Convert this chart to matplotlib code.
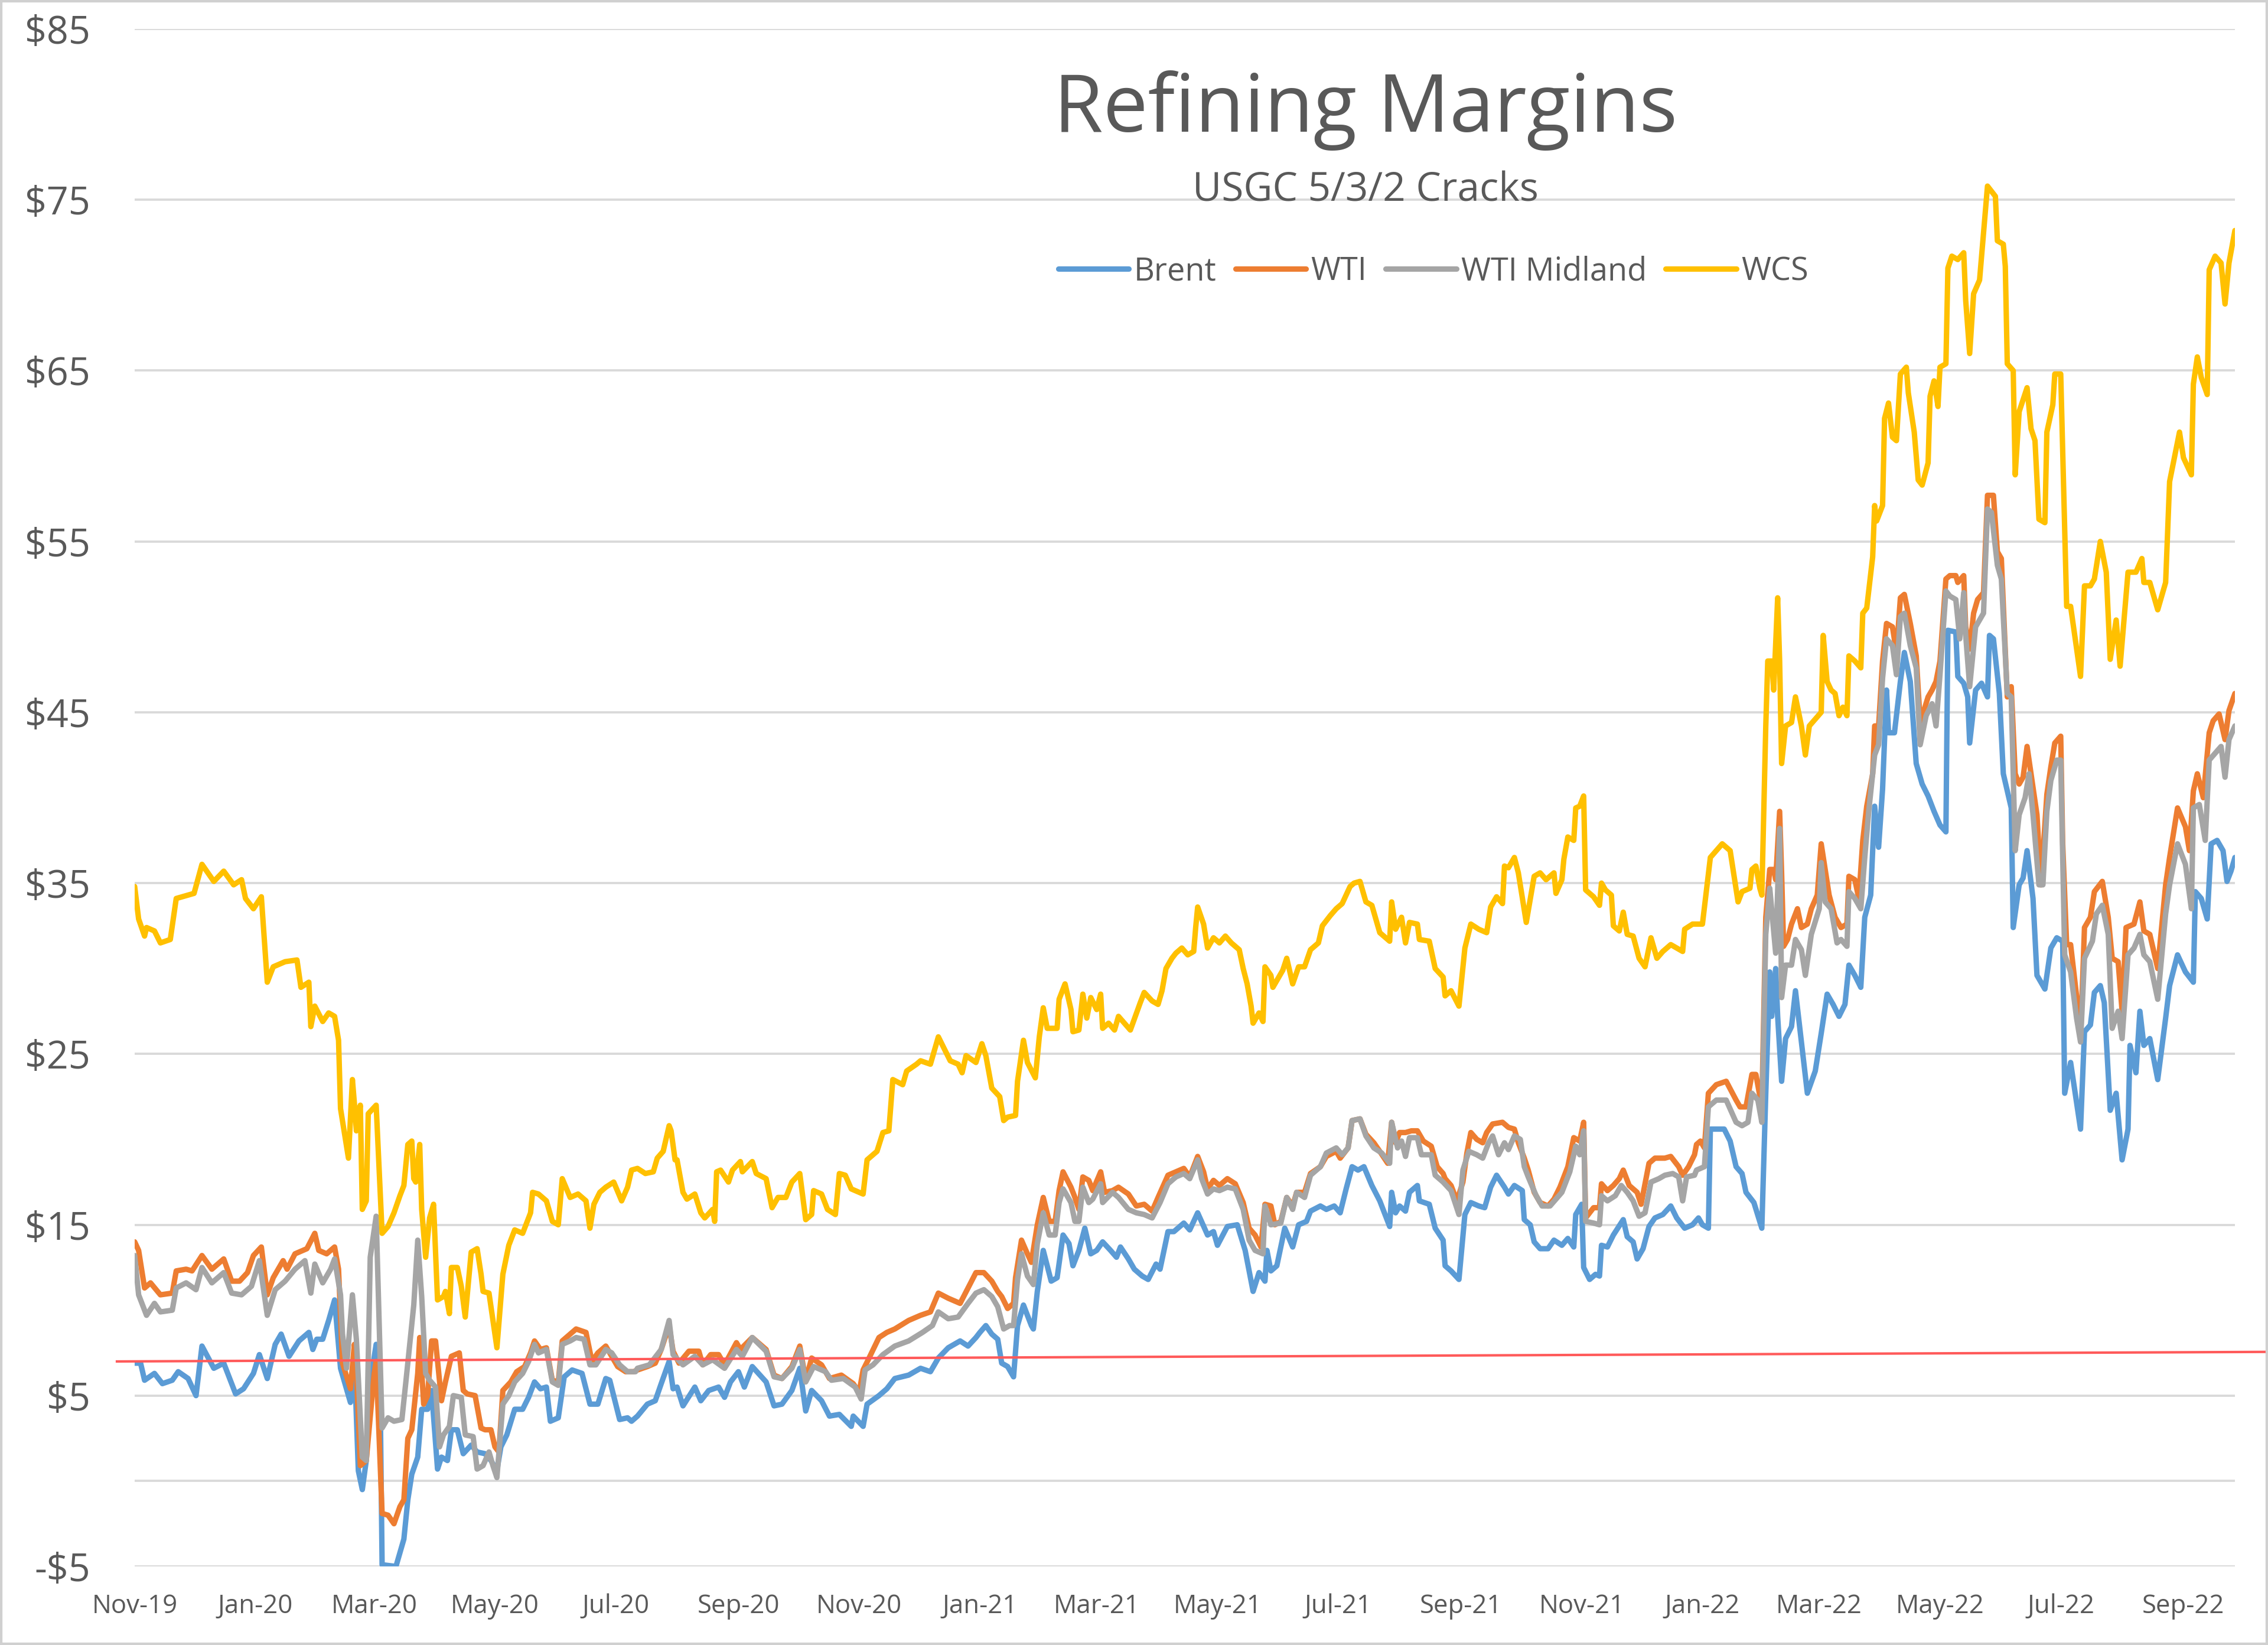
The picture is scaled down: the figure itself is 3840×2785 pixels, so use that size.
import numpy as np
import matplotlib
matplotlib.use('Agg')
import matplotlib.pyplot as plt
import matplotlib.dates as mdates
import matplotlib.transforms as mtransforms
from matplotlib.patches import Rectangle
from matplotlib.lines import Line2D

plt.rcParams['font.family'] = ['Open Sans', 'DejaVu Sans']

# ---------------- data (day offset from 2019-11-01, value $/bbl) ----------------
START = np.datetime64('2019-11-01')

brent_pts = [(0,6.9),(3,6.9),(5,5.9),(10,6.3),(14,5.7),(19,5.9),(22,6.4),(27,6.0),(31,5.0),(34,7.9),(40,6.6),(45,6.9),(51,5.1),(55,5.4),(60,6.3),(63,7.4),(67,6.0),(71,8.0),(74,8.6),(78,7.3),(83,8.2),(88,8.7),(90,7.7),(92,8.3),(95,8.3),(98,9.4),(101,10.6),(104,6.6),(109,4.6),(111,7.0),(113,0.6),(115,-0.5),(117,1.2),(120,6.5),(122,8.0),(124,5.3),(125,-4.9),(132,-5.0),(136,-3.4),(138,-1.1),(140,0.4),(143,1.4),(145,4.2),(148,4.2),(150,5.3),(153,0.7),(155,1.4),(158,1.2),(160,3.0),(163,3.0),(166,1.6),(170,2.1),(173,1.7),(177,1.6),(180,1.2),(183,0.6),(185,2.0),(188,2.7),(192,4.2),(196,4.2),(199,4.9),(202,5.8),(205,5.4),(208,5.5),(210,3.5),(214,3.7),(217,6.1),(221,6.5),(226,6.3),(230,4.5),(234,4.5),(238,6.0),(240,5.9),(245,3.6),(249,3.7),(251,3.5),(254,3.8),(259,4.5),(263,4.7),(266,5.7),(270,7.0),(272,5.4),(274,5.5),(277,4.4),(283,5.5),(286,4.7),(290,5.3),(295,5.5),(298,4.9),(301,5.8),(305,6.4),(308,5.5),(312,6.7),(319,5.8),(323,4.4),(327,4.5),(332,5.3),(336,6.6),(339,4.1),(342,5.3),(347,4.7),(351,3.8),(356,3.9),(362,3.2),(363,3.8),(368,3.2),(370,4.5),(376,5.0),(380,5.4),(384,6.0),(391,6.2),(397,6.6),(402,6.4),(406,7.2),(411,7.8),(417,8.2),(421,7.9),(425,8.4),(427,8.7),(430,9.1),(433,8.6),(436,8.3),(438,6.9),(441,6.7),(444,6.1),(446,9.1),(449,10.3),(453,9.1),(454,8.9),(456,11.1),(459,13.5),(463,11.7),(466,11.9),(469,14.4),(472,13.9),(474,12.6),(477,13.5),(480,14.8),(483,13.3),(486,13.5),(489,14.0),(493,13.5),(496,13.1),(498,13.7),(502,13.0),(505,12.4),(509,12.0),(512,11.8),(516,12.7),(518,12.4),(522,14.6),(525,14.6),(530,15.1),(533,14.7),(537,15.7),(542,14.4),(545,14.6),(547,13.8),(552,14.9),(557,15.0),(561,13.5),(565,11.1),(568,12.2),(571,11.7),(572,13.5),(574,12.3),(577,12.6),(581,14.8),(585,13.7),(588,15.0),(592,15.2),(594,15.8),(599,16.1),(602,15.9),(606,16.1),(609,15.7),(612,17.1),(615,18.4),(618,18.2),(621,18.4),(625,17.3),(629,16.4),(632,15.5),(634,14.9),(635,16.9),(637,15.7),(639,16.1),(642,15.8),(644,16.9),(648,17.3),(649,16.4),(654,16.2),(657,14.8),(661,14.1),(662,12.6),(665,12.3),(669,11.8),(672,15.6),(675,16.3),(679,16.1),(682,16.0),(685,17.2),(688,17.9),(692,17.2),(694,16.8),(697,17.3),(701,17.0),(702,15.3),(705,15.0),(707,14.0),(710,13.6),(714,13.6),(717,14.1),(721,13.8),(724,14.2),(727,13.7),(728,15.6),(731,16.2),(732,12.5),(735,11.8),(738,12.1),(740,12.0),(741,13.8),(744,13.7),(747,14.4),(752,15.3),(754,14.3),(757,14.0),(759,13.0),(762,13.6),(765,14.9),(768,15.4),(772,15.6),(776,16.1),(779,15.4),(783,14.8),(787,15.0),(790,15.4),(792,15.0),(795,14.8),(796,20.6),(799,20.6),(803,20.6),(806,19.9),(809,18.4),(812,18.0),(814,16.9),(818,16.3),(822,14.8),(824,22.7),(826,29.8),(827,27.2),(829,30.0),(830,27.2),(832,23.4),(834,25.9),(837,26.6),(839,28.7),(842,25.7),(845,22.7),(849,24.0),(852,26.2),(855,28.5),(858,27.9),(861,27.2),(864,27.9),(866,30.2),(869,29.6),(872,28.9),(874,33.0),(877,34.3),(879,39.5),(881,37.1),(883,40.5),(885,46.3),(886,43.8),(889,43.8),(892,46.8),(894,48.5),(897,46.8),(900,42.0),(903,40.8),(906,40.1),(909,39.2),(912,38.4),(915,38.0),(916,49.8),(920,49.7),(921,47.1),(924,46.7),(926,45.9),(927,43.2),(930,46.3),(933,46.7),(936,45.9),(937,49.5),(939,49.3),(942,46.1),(944,41.4),(948,39.4),(949,32.4),(952,34.9),(954,35.3),(956,36.9),(959,34.1),(961,29.6),(965,28.8),(968,31.2),(971,31.8),(974,31.6),(975,22.7),(978,24.5),(983,20.6),(985,26.3),(988,26.7),(990,28.6),(993,29.0),(995,28.0),(998,21.7),(1001,22.7),(1004,18.8),(1007,20.6),(1008,25.5),(1011,23.9),(1013,27.5),(1015,25.5),(1018,25.9),(1022,23.5),(1026,27.1),(1028,29.0),(1032,30.8),(1036,29.8),(1040,29.2),(1041,34.5),(1044,34.1),(1047,32.9),(1049,37.3),(1052,37.5),(1055,36.9),(1057,35.1),(1059,35.7),(1061,36.5)]

wti_pts = [(0,14.0),(2,13.5),(5,11.3),(8,11.6),(13,10.9),(19,11.0),(21,12.3),(26,12.4),(29,12.3),(34,13.2),(39,12.4),(45,13.0),(49,11.7),(53,11.7),(57,12.2),(60,13.2),(64,13.7),(67,10.9),(70,11.9),(75,12.9),(77,12.4),(81,13.3),(87,13.6),(91,14.5),(93,13.5),(97,13.3),(101,13.7),(103,12.4),(105,6.9),(109,5.4),(111,8.0),(112,6.5),(114,0.9),(117,1.2),(121,6.3),(122,7.0),(125,-1.9),(128,-2.0),(131,-2.5),(134,-1.5),(136,-1.1),(138,2.5),(140,3.0),(143,6.3),(144,8.4),(146,4.5),(148,5.0),(150,8.2),(152,8.2),(155,4.7),(157,5.8),(160,7.3),(164,7.5),(166,5.3),(168,5.1),(172,5.0),(175,3.1),(177,3.0),(180,3.0),(182,2.0),(184,1.7),(186,5.3),(190,5.8),(193,6.4),(197,6.7),(200,7.5),(202,8.2),(205,7.7),(208,7.8),(211,5.9),(214,5.8),(216,8.2),(220,8.6),(223,8.9),(228,8.7),(231,7.0),(234,7.5),(238,7.9),(240,7.5),(244,6.7),(248,6.4),(252,6.4),(254,6.5),(259,6.7),(263,6.9),(266,7.7),(270,9.1),(272,7.6),(275,6.9),(280,7.6),(285,7.6),(287,6.8),(291,7.4),(295,7.4),(298,6.8),(304,8.1),(306,7.7),(312,8.4),(319,7.7),(323,6.2),(327,6.0),(332,6.7),(336,7.9),(339,5.9),(342,7.2),(347,6.8),(351,6.0),(357,6.2),(363,5.7),(366,5.2),(368,6.5),(371,7.2),(376,8.4),(380,8.7),(384,8.9),(391,9.4),(397,9.7),(402,9.9),(406,11.0),(411,10.7),(417,10.4),(421,11.3),(425,12.2),(429,12.2),(433,11.7),(436,11.1),(438,10.8),(441,10.1),(444,10.4),(445,11.9),(448,14.1),(451,13.3),(453,12.8),(456,15.0),(459,16.6),(462,15.2),(465,15.2),(467,17.0),(469,18.1),(473,17.2),(475,16.6),(477,15.9),(479,17.8),(482,17.6),(484,17.0),(488,18.1),(490,16.9),(494,17.0),(497,17.2),(502,16.8),(506,16.1),(510,16.2),(514,15.8),(517,16.6),(522,17.9),(526,18.1),(530,18.3),(533,17.8),(537,19.0),(540,18.1),(542,17.1),(545,17.6),(548,17.3),(552,17.7),(556,17.4),(560,16.3),(563,14.8),(566,14.4),(569,13.7),(571,16.2),(574,16.1),(576,15.0),(579,15.2),(582,16.6),(585,16.1),(587,16.9),(591,16.9),(594,18.0),(599,18.4),(602,19.0),(607,19.3),(609,18.9),(613,19.5),(615,21.1),(619,21.2),(622,20.3),(626,19.8),(629,19.3),(633,18.6),(635,21.0),(637,19.8),(639,20.4),(642,20.4),(645,20.5),(648,20.5),(651,19.9),(655,19.6),(658,18.4),(661,18.0),(662,17.7),(665,17.3),(668,16.4),(671,17.5),(673,19.2),(675,20.4),(678,20.0),(681,19.8),(683,20.4),(686,20.9),(691,21.0),(694,20.7),(697,20.6),(699,19.8),(702,18.9),(704,18.2),(707,16.9),(710,16.3),(714,16.1),(717,16.5),(720,17.2),(724,18.4),(727,20.1),(730,19.9),(732,21.0),(733,15.4),(737,16.0),(740,16.0),(741,17.4),(744,17.0),(747,17.3),(750,17.7),(752,18.2),(755,17.3),(759,16.9),(761,16.2),(765,18.6),(768,18.9),(773,18.9),(776,19.0),(780,18.4),(782,17.9),(785,18.4),(788,19.1),(789,19.7),(791,19.9),(793,19.5),(795,22.7),(799,23.2),(804,23.4),(809,22.3),(811,21.9),(814,21.9),(817,23.8),(819,23.8),(822,21.9),(824,33.0),(826,35.8),(828,35.8),(829,35.2),(831,39.2),(832,35.6),(833,31.3),(835,31.7),(837,32.6),(840,33.5),(842,32.4),(845,32.6),(847,33.5),(850,34.3),(852,37.3),(854,35.8),(856,34.3),(859,33.0),(862,32.4),(865,32.6),(866,35.4),(869,35.2),(871,34.1),(873,37.5),(875,39.5),(878,41.4),(879,44.2),(881,44.2),(883,48.0),(885,50.2),(888,50.0),(890,48.5),(892,51.7),(894,51.9),(897,50.2),(900,48.3),(902,44.4),(906,45.9),(908,46.3),(910,46.8),(912,48.0),(915,52.8),(917,53.0),(920,53.0),(921,52.6),(924,53.0),(925,50.0),(927,48.7),(929,50.8),(931,51.6),(934,52.0),(936,57.7),(939,57.7),(941,54.4),(943,54.0),(946,45.9),(948,46.5),(950,41.4),(952,40.8),(954,41.2),(956,43.0),(959,40.6),(961,39.0),(963,34.9),(966,40.2),(968,41.8),(970,43.2),(973,43.6),(974,37.3),(976,31.4),(978,31.4),(981,28.4),(983,25.9),(985,32.4),(988,33.0),(990,34.5),(994,35.1),(997,33.0),(999,30.6),(1002,30.4),(1004,27.5),(1006,32.4),(1010,32.6),(1013,33.9),(1015,32.2),(1018,32.0),(1022,30.0),(1026,34.9),(1028,36.5),(1032,39.4),(1036,38.3),(1038,36.9),(1040,40.4),(1042,41.4),(1045,40.0),(1048,43.8),(1050,44.5),(1053,44.9),(1056,43.4),(1058,45.1),(1061,46.1)]

midland_pts = [(0,13.2),(2,10.9),(6,9.7),(10,10.4),(13,9.9),(19,10.0),(21,11.3),(26,11.6),(31,11.2),(34,12.5),(39,11.6),(45,12.2),(49,11.0),(54,10.9),(59,11.4),(63,12.9),(67,9.7),(71,11.2),(76,11.7),(81,12.4),(86,12.9),(89,11.0),(91,12.7),(95,11.6),(99,12.4),(101,13.0),(104,10.9),(105,8.6),(107,6.6),(110,10.9),(112,8.3),(115,1.4),(117,1.2),(119,13.1),(122,15.5),(125,3.1),(128,3.7),(131,3.5),(135,3.6),(137,5.8),(141,10.3),(143,14.1),(145,10.8),(147,6.3),(149,5.9),(152,5.5),(154,2.0),(156,2.7),(159,3.2),(161,5.0),(165,4.9),(167,2.7),(171,2.6),(173,0.7),(176,0.9),(179,1.7),(181,0.9),(183,0.2),(186,4.5),(189,5.0),(192,5.8),(196,6.3),(199,7.0),(202,8.0),(204,7.5),(208,7.7),(211,5.8),(214,5.6),(216,8.0),(220,8.2),(223,8.4),(227,8.3),(230,6.8),(233,6.8),(238,7.7),(241,7.5),(245,6.8),(249,6.4),(253,6.4),(254,6.6),(260,6.8),(266,7.7),(270,9.4),(272,7.4),(277,6.8),(283,7.3),(287,6.8),(292,7.1),(298,6.6),(304,7.7),(307,7.3),(312,8.4),(319,7.6),(323,6.1),(327,6.0),(332,6.6),(336,7.7),(339,5.8),(343,6.7),(349,6.4),(352,5.9),(358,6.0),(364,5.5),(367,4.8),(369,6.5),(373,6.8),(378,7.4),(384,7.9),(391,8.2),(398,8.7),(403,9.1),(406,9.9),(411,9.5),(416,9.6),(421,10.4),(425,11.0),(429,11.2),(433,10.8),(436,10.2),(439,8.9),(442,9.1),(444,9.1),(446,11.8),(448,13.3),(451,12.0),(454,11.5),(456,13.9),(459,15.7),(462,14.4),(465,14.4),(467,16.3),(469,17.1),(473,16.3),(475,15.2),(477,15.2),(479,17.2),(482,16.3),(484,16.5),(488,17.4),(489,16.3),(494,16.9),(497,16.6),(502,15.9),(506,15.7),(510,15.6),(514,15.4),(518,16.3),(522,17.4),(526,17.8),(530,18.0),(533,17.7),(537,18.8),(539,17.7),(542,16.8),(545,17.1),(548,17.0),(552,17.2),(556,17.1),(560,15.9),(563,14.1),(566,13.5),(570,13.3),(571,16.1),(574,15.0),(579,15.1),(582,16.6),(585,15.9),(587,16.9),(591,16.6),(594,17.9),(599,18.4),(602,19.2),(607,19.5),(610,19.1),(613,19.5),(615,21.1),(619,21.2),(622,20.2),(626,19.5),(630,19.2),(634,18.6),(635,21.0),(638,19.5),(640,19.9),(642,19.0),(644,20.1),(648,20.1),(650,19.1),(655,19.1),(657,17.9),(661,17.5),(665,17.0),(669,15.6),(671,18.2),(674,19.3),(678,19.1),(681,18.9),(684,19.8),(686,20.2),(689,19.1),(692,19.8),(694,19.4),(697,20.2),(700,20.0),(702,18.4),(704,17.8),(708,16.7),(711,16.1),(715,16.1),(718,16.5),(721,16.9),(725,18.1),(728,19.6),(730,19.1),(732,20.5),(733,15.2),(737,15.1),(740,15.0),(741,16.7),(744,16.4),(748,16.7),(751,17.3),(754,16.9),(757,16.4),(760,15.5),(763,15.7),(766,17.5),(770,17.7),(773,17.9),(777,18.0),(780,17.8),(782,16.4),(784,17.8),(788,17.9),(789,18.2),(793,18.4),(795,21.9),(799,22.3),(804,22.3),(809,21.0),(812,20.8),(815,21.0),(817,22.7),(820,22.3),(822,21.0),(824,32.0),(826,34.7),(829,30.9),(831,38.2),(832,28.3),(834,30.2),(837,30.2),(839,31.7),(842,31.1),(844,29.6),(847,32.0),(851,33.5),(852,36.2),(854,33.9),(857,33.5),(860,31.5),(862,31.7),(865,31.3),(866,34.5),(869,34.1),(872,33.5),(874,36.5),(876,39.2),(879,42.5),(881,43.1),(883,47.0),(885,49.3),(888,48.9),(890,47.2),(892,50.6),(894,50.8),(897,48.9),(900,47.6),(902,43.1),(905,44.8),(908,45.5),(910,44.2),(912,47.2),(915,52.1),(917,51.8),(920,51.6),(922,49.3),(924,52.0),(925,49.5),(927,46.5),(930,50.0),(932,50.4),(934,50.8),(936,56.9),(938,56.7),(941,53.6),(943,52.8),(946,46.1),(948,45.9),(950,36.9),(952,39.0),(955,40.0),(957,41.4),(959,39.0),(962,34.9),(964,34.9),(966,39.2),(968,41.0),(971,42.2),(973,42.2),(975,30.8),(978,29.8),(981,27.1),(983,25.7),(985,30.6),(989,31.6),(991,33.2),(994,33.7),(997,32.0),(999,26.5),(1002,27.5),(1004,25.9),(1007,30.8),(1010,31.2),(1013,32.0),(1015,30.8),(1018,30.4),(1022,28.2),(1026,33.2),(1028,34.9),(1032,37.3),(1036,36.1),(1039,33.5),(1040,39.4),(1043,39.6),(1046,37.5),(1048,42.2),(1051,42.6),(1054,43.0),(1056,41.2),(1058,43.4),(1061,44.2)]

wcs_pts = [(0,34.8),(2,32.9),(5,31.9),(6,32.4),(10,32.2),(13,31.5),(18,31.7),(21,34.1),(30,34.4),(34,36.1),(40,35.1),(45,35.7),(50,34.9),(54,35.2),(56,34.1),(60,33.5),(64,34.2),(67,29.2),(70,30.1),(76,30.4),(82,30.5),(84,28.9),(88,29.2),(89,26.6),(91,27.8),(95,26.9),(98,27.4),(101,27.2),(103,25.8),(104,21.8),(108,18.9),(110,23.5),(111,22.1),(112,20.5),(114,22.0),(115,15.9),(117,16.4),(118,21.5),(122,22.0),(125,14.5),(128,14.9),(131,15.7),(134,16.7),(136,17.3),(138,19.7),(140,19.9),(141,17.7),(142,17.5),(144,19.7),(145,15.9),(147,13.1),(149,15.4),(151,16.2),(153,10.6),(156,10.8),(157,11.1),(159,9.8),(160,12.5),(163,12.5),(165,11.4),(167,9.6),(170,13.4),(173,13.6),(175,12.1),(176,11.1),(179,11.0),(183,7.8),(186,12.1),(189,13.8),(192,14.7),(196,14.5),(200,15.7),(201,16.9),(204,16.8),(208,16.4),(211,15.2),(214,15.0),(216,17.7),(220,16.6),(224,16.8),(228,16.4),(230,14.8),(232,16.2),(235,16.9),(238,17.2),(242,17.5),(246,16.4),(249,17.2),(251,18.2),(254,18.3),(258,18.0),(262,18.1),(264,18.9),(267,19.3),(270,20.8),(271,20.5),(273,18.8),(274,18.8),(277,16.9),(279,16.5),(283,16.8),(286,15.7),(288,15.4),(292,15.9),(293,15.2),(294,18.1),(296,18.2),(300,17.5),(302,18.2),(306,18.7),(307,18.1),(312,18.7),(314,18.0),(319,17.7),(322,16.0),(325,16.6),(329,16.6),(332,17.5),(336,18.0),(339,15.3),(342,15.6),(343,17.0),(347,16.8),(350,15.9),(354,15.6),(356,18.0),(359,17.9),(362,17.1),(368,16.8),(370,18.8),(375,19.3),(378,20.4),(381,20.5),(383,23.5),(388,23.2),(390,24.0),(395,24.4),(397,24.6),(402,24.4),(406,26.0),(412,24.6),(416,24.4),(418,23.9),(420,24.9),(425,24.5),(428,25.6),(430,24.9),(433,23.0),(437,22.5),(439,21.1),(441,21.3),(445,21.4),(446,23.4),(449,25.8),(451,24.5),(455,23.6),(457,26.0),(459,27.7),(461,26.5),(466,26.5),(467,28.2),(470,29.1),(473,27.6),(474,26.3),(477,26.4),(479,28.5),(481,27.1),(483,28.3),(486,27.6),(488,28.5),(489,26.5),(492,26.8),(495,26.4),(497,27.2),(503,26.4),(508,28.0),(510,28.6),(514,28.1),(517,27.9),(519,28.7),(521,30.0),(524,30.6),(526,30.9),(529,31.2),(532,30.8),(535,31.0),(536,32.4),(537,33.6),(540,32.6),(542,31.2),(545,31.8),(548,31.5),(551,31.9),(554,31.5),(558,31.1),(560,30.0),(562,29.1),(564,27.8),(565,26.8),(568,27.4),(570,26.9),(571,30.1),(574,29.6),(575,28.9),(580,29.9),(582,30.6),(585,29.1),(588,30.1),(591,30.1),(594,31.1),(598,31.5),(600,32.5),(604,33.1),(607,33.5),(610,33.8),(614,34.8),(616,35.0),(619,35.1),(622,33.9),(625,33.7),(629,32.1),(634,31.6),(635,33.9),(637,32.3),(640,33.0),(642,31.5),(644,32.7),(648,32.6),(649,31.7),(654,31.6),(657,30.0),(661,29.5),(662,28.4),(665,28.7),(669,27.8),(672,31.2),(675,32.6),(679,32.3),(683,32.1),(685,33.6),(688,34.2),(691,33.8),(692,36.0),(694,35.9),(697,36.5),(699,35.6),(703,32.7),(707,35.4),(710,35.6),(713,35.2),(717,35.6),(718,34.4),(721,35.2),(722,36.4),(724,37.7),(727,37.5),(728,39.4),(730,39.5),(732,40.1),(733,34.6),(737,34.2),(740,33.7),(741,35.0),(743,34.6),(746,34.3),(747,32.5),(750,32.2),(752,33.3),(754,32.0),(757,31.9),(760,30.6),(763,30.1),(766,31.8),(769,30.6),(772,31.0),(776,31.4),(782,31.0),(783,32.3),(787,32.6),(792,32.6),(796,36.5),(799,36.9),(802,37.3),(806,36.9),(810,33.9),(812,34.5),(816,34.7),(817,35.8),(819,36.0),(821,34.7),(822,34.3),(824,44.2),(825,48.0),(827,48.0),(828,46.3),(830,51.7),(831,48.0),(832,42.0),(834,44.2),(837,44.4),(839,45.9),(842,44.2),(844,42.5),(846,44.2),(849,44.6),(852,45.0),(853,49.5),(855,46.8),(857,46.3),(859,46.1),(861,44.8),(863,45.3),(865,44.8),(866,48.3),(869,48.0),(872,47.6),(873,50.8),(875,51.1),(878,54.1),(879,57.1),(880,56.2),(883,57.1),(884,62.2),(886,63.1),(888,61.1),(890,60.9),(892,64.8),(895,65.2),(896,63.7),(899,61.4),(901,58.6),(903,58.3),(906,59.6),(907,63.5),(909,64.4),(911,62.9),(912,65.2),(915,65.4),(916,71.0),(918,71.7),(921,71.5),(924,71.9),(925,69.1),(927,66.0),(929,69.5),(932,70.3),(936,75.8),(940,75.2),(941,72.6),(944,72.4),(945,71.1),(946,65.4),(949,65.0),(950,58.9),(952,62.6),(956,64.0),(958,61.6),(960,60.9),(962,56.3),(965,56.1),(966,61.4),(969,63.0),(970,64.8),(973,64.8),(976,51.2),(978,51.2),(983,47.1),(985,52.4),(988,52.4),(990,52.8),(993,55.0),(996,53.2),(998,48.1),(1001,50.4),(1003,47.7),(1007,53.2),(1011,53.2),(1014,54.0),(1015,52.6),(1018,52.6),(1022,51.0),(1026,52.6),(1028,58.5),(1033,61.4),(1035,59.9),(1039,58.9),(1040,64.2),(1042,65.8),(1044,64.6),(1047,63.6),(1048,70.9),(1051,71.7),(1054,71.3),(1056,68.9),(1058,71.3),(1061,73.2)]

series_names = ['Brent', 'WTI', 'WTI Midland', 'WCS']
series_data = [brent_pts, wti_pts, midland_pts, wcs_pts]
series_colors = ['#5B9BD5', '#ED7D31', '#A5A5A5', '#FFC000']

y_ticks = list(range(-5, 86, 10))
x_last_day = 1061
ref_line_vals = [7.0, 7.56]      # red reference line (left, right)

title = 'Refining Margins'
subtitle = 'USGC 5/3/2 Cracks'

# ---------------- figure ----------------
W, H = 3840, 2785
fig = plt.figure(figsize=(W / 300, H / 300), dpi=300)
fig.patch.set_facecolor('white')

ax = fig.add_axes([228 / W, 1 - 2652 / H, (3784 - 228) / W, (2652 - 49) / H])
ax.set_facecolor('white')

def to_dates(days):
    return START + np.array(days, dtype='int64').astype('timedelta64[D]')

handles = []
for name, pts, col in zip(series_names, series_data, series_colors):
    d = [p[0] for p in pts]
    v = [p[1] for p in pts]
    ln, = ax.plot(to_dates(d), v, color=col, lw=2.2, solid_joinstyle='round',
                  solid_capstyle='round', zorder=3, label=name)
    handles.append(ln)

ax.set_ylim(-5, 85)
ax.set_xlim(START, START + np.timedelta64(x_last_day, 'D'))

ax.set_yticks(y_ticks)
ax.set_yticklabels([f'${v}' if v >= 0 else f'-${-v}' for v in y_ticks])
ax.yaxis.grid(True, color='#D9D9D9', lw=0.9, zorder=0)
ax.set_axisbelow(True)
ax.axhline(0, color='#D9D9D9', lw=0.9, zorder=1)

ax.xaxis.set_major_locator(mdates.MonthLocator(bymonth=[1, 3, 5, 7, 9, 11]))
ax.xaxis.set_major_formatter(mdates.DateFormatter('%b-%y'))

for s in ax.spines.values():
    s.set_visible(False)
ax.tick_params(axis='y', length=0, pad=18, labelsize=15.5, labelcolor='#595959')
ax.tick_params(axis='x', length=0, pad=11, labelsize=10.5, labelcolor='#595959')

# red reference line spanning beyond the plot area
trans = mtransforms.blended_transform_factory(fig.transFigure, ax.transData)
ax.add_line(Line2D([198 / W, 1.0], ref_line_vals, transform=trans, color='#FF5A5A',
                   lw=1.0, clip_on=False, zorder=5))

# title & subtitle
fig.text(0.602, 0.933, title, ha='center', va='center', fontsize=32.5, color='#595959')
fig.text(0.602, 0.884, subtitle, ha='center', va='center', fontsize=16.2, color='#595959')

leg = ax.legend(handles=handles, loc='center', bbox_to_anchor=(0.632, 0.835),
                bbox_transform=fig.transFigure, ncol=4, frameon=False, fontsize=13,
                handlelength=2.2, handletextpad=0.15, columnspacing=0.6)
for t in leg.get_texts():
    t.set_color('#595959')

# chart border
fig.patches.append(Rectangle((0, 0), 1, 1, transform=fig.transFigure, fill=False,
                             ec='#D0D0D0', lw=2.0))

fig.savefig('out.png', dpi=300, facecolor='white')
